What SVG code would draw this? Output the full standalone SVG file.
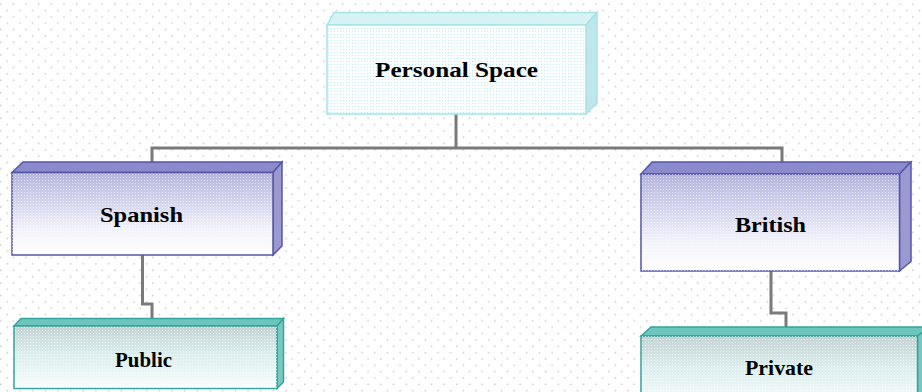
<svg xmlns="http://www.w3.org/2000/svg" width="922" height="392" viewBox="0 0 922 392">
  <style>
    .label { font-family: "Liberation Serif", "DejaVu Serif", serif; font-weight: bold; font-size: 22px; fill: #000; text-anchor: start; }
    .link { fill: none; stroke: #7a7a7a; stroke-width: 3; stroke-linejoin: miter; }
    .edge-blue { stroke: #5656aa; stroke-width: 1.5; }
    .edge-teal { stroke: #35a49c; stroke-width: 1.5; }
    .edge-cyan { stroke: #a6e2e6; stroke-width: 1.5; }
  </style>
  <defs>
    <!-- staggered dot grid of the page -->
    <pattern id="grid" width="12.67" height="12.67" patternUnits="userSpaceOnUse">
      <rect x="0" y="3.5" width="1.4" height="1.4" fill="#c4c4c4"/>
      <rect x="6.6" y="9.8" width="1.4" height="1.4" fill="#c4c4c4"/>
    </pattern>
    <!-- fine stipple laid over box faces -->
    <pattern id="stipple" width="3" height="3" patternUnits="userSpaceOnUse">
      <rect x="0" y="0" width="1" height="1" fill="#ffffff" fill-opacity="0.55"/>
    </pattern>
    <!-- cyan dot texture of the root front face -->
    <pattern id="cyanDots" width="3" height="3" patternUnits="userSpaceOnUse">
      <rect x="1" y="1" width="1" height="1" fill="#bfeef2"/>
    </pattern>
    <linearGradient id="frontBlue" x1="0" y1="0" x2="0" y2="1">
      <stop offset="0" stop-color="#b4b4de"/>
      <stop offset="0.35" stop-color="#d4d4ee"/>
      <stop offset="0.7" stop-color="#f3f3fb"/>
      <stop offset="1" stop-color="#ffffff"/>
    </linearGradient>
    <linearGradient id="frontTeal" x1="0" y1="0" x2="0" y2="1">
      <stop offset="0" stop-color="#c4d2d2"/>
      <stop offset="0.45" stop-color="#dceeee"/>
      <stop offset="1" stop-color="#f8fdfd"/>
    </linearGradient>
  </defs>

  <!-- page -->
  <rect width="922" height="392" fill="#ffffff"/>
  <rect width="922" height="392" fill="url(#grid)"/>

  <!-- connectors -->
  <g id="connectors">
    <polyline class="link" points="456,114 456,148"/>
    <polyline class="link" points="152,162 152,148 782,148 782,162"/>
    <polyline class="link" points="142.5,255 142.5,304 152,304 152,318.5"/>
    <polyline class="link" points="771,271 771,313 786,313 786,327"/>
  </g>

  <!-- root -->
  <g id="personal-space">
    <polygon points="327,25 334,12.5 597,12.5 586,25" fill="#d6f2f4" class="edge-cyan"/>
    <polygon points="586,25 597,12.5 597,103 586,114" fill="#bfe6ea" class="edge-cyan"/>
    <rect x="327" y="25" width="259" height="89" fill="#fbfefe" class="edge-cyan"/>
    <rect x="327" y="25" width="259" height="89" fill="url(#cyanDots)"/>
    <text class="label" x="375" y="77" textLength="163" lengthAdjust="spacingAndGlyphs">Personal Space</text>
  </g>

  <g id="spanish">
    <polygon points="12,172.5 23,162 282,162 273,172.5" fill="#8a8acc" class="edge-blue"/>
    <polygon points="273,172.5 282,162 282,246 273,255" fill="#9a9ad0" class="edge-blue"/>
    <rect x="12" y="172.5" width="261" height="82.5" fill="url(#frontBlue)" class="edge-blue"/>
    <rect x="12" y="172.5" width="261" height="82.5" fill="url(#stipple)"/>
    <text class="label" x="100" y="222" textLength="83" lengthAdjust="spacingAndGlyphs">Spanish</text>
  </g>

  <g id="british">
    <polygon points="641,174 652,162 911,162 899.5,174" fill="#8a8acc" class="edge-blue"/>
    <polygon points="899.5,174 911,162 911,261.5 899.5,271" fill="#9a9ad0" class="edge-blue"/>
    <rect x="641" y="174" width="258.5" height="97" fill="url(#frontBlue)" class="edge-blue"/>
    <rect x="641" y="174" width="258.5" height="97" fill="url(#stipple)"/>
    <text class="label" x="735" y="232" textLength="71" lengthAdjust="spacingAndGlyphs">British</text>
  </g>

  <g id="public">
    <polygon points="14,326 21,318.5 283.5,318.5 277,326" fill="#6cc6be" class="edge-teal"/>
    <polygon points="277,326 283.5,318.5 283.5,382 277,388.5" fill="#78c8c0" class="edge-teal"/>
    <rect x="14" y="326" width="263" height="62.5" fill="url(#frontTeal)" class="edge-teal"/>
    <rect x="14" y="326" width="263" height="62.5" fill="url(#stipple)"/>
    <text class="label" x="115" y="366.5" textLength="57" lengthAdjust="spacingAndGlyphs">Public</text>
  </g>

  <g id="private">
    <polygon points="641,336 651,327 930,327 917.5,336" fill="#6cc6be" class="edge-teal"/>
    <polygon points="917.5,336 930,327 930,400 917.5,400" fill="#78c8c0" class="edge-teal"/>
    <rect x="641" y="336" width="276.5" height="70" fill="url(#frontTeal)" class="edge-teal"/>
    <rect x="641" y="336" width="276.5" height="70" fill="url(#stipple)"/>
    <text class="label" x="745" y="375" textLength="68" lengthAdjust="spacingAndGlyphs">Private</text>
  </g>
</svg>
